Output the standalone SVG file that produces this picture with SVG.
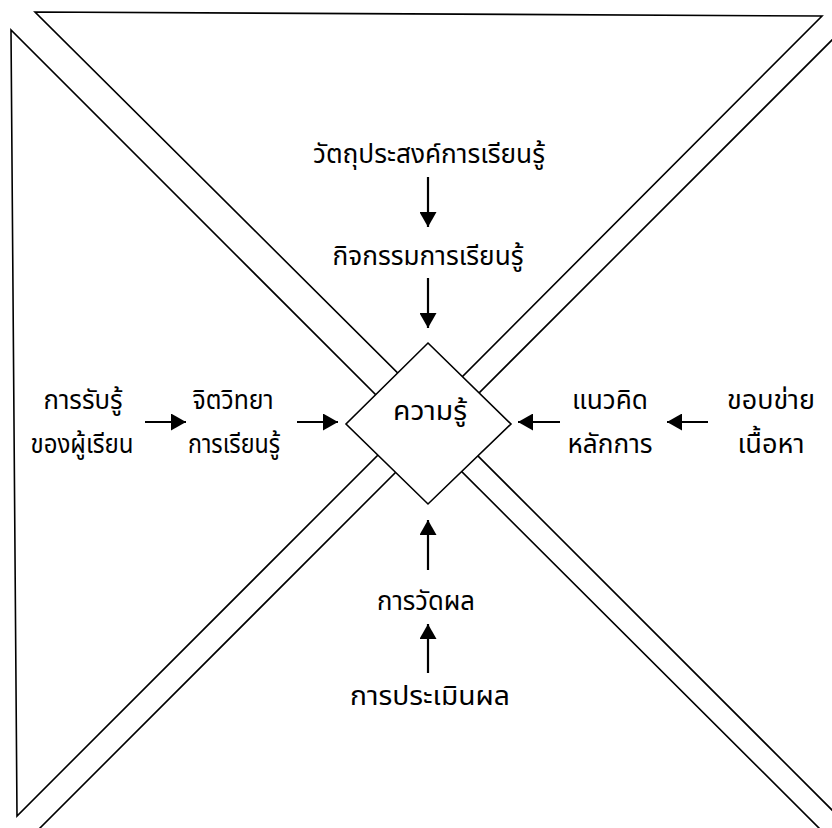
<svg xmlns="http://www.w3.org/2000/svg" width="832" height="828" viewBox="0 0 832 828">
<style>
.tri{fill:none;stroke:#000;stroke-width:1.6}
.dia{fill:#fff;stroke:#000;stroke-width:1.6}
.arr{stroke:#000;stroke-width:2.2;fill:none;marker-end:url(#ah)}
text{font-family:"Noto Sans Thai","Noto Sans","DejaVu Sans",sans-serif;font-size:27px;fill:#000;text-anchor:middle}
</style>
<defs>
<marker id="ah" markerUnits="userSpaceOnUse" markerWidth="16" markerHeight="17" refX="15" refY="8.5" orient="auto">
<path d="M0,0 L15,8.5 L0,17 Z" fill="#000"/>
</marker>
</defs>
<g id="triangles">
<polygon class="tri" points="35,12 822,16 432,407"/>
<polygon class="tri" points="11,30 17,816 407,426"/>
<polygon class="tri" points="447,425 872,0 872,850"/>
<polygon class="tri" points="429,439 18,850 841,850"/>
</g>
<g id="connectors">
<line class="arr" x1="428" y1="177" x2="428" y2="227"/>
<line class="arr" x1="428" y1="278" x2="428" y2="328"/>
<line class="arr" x1="145" y1="422" x2="186" y2="422"/>
<line class="arr" x1="297" y1="422" x2="338" y2="422"/>
<line class="arr" x1="560" y1="422" x2="518" y2="422"/>
<line class="arr" x1="708" y1="422" x2="667" y2="422"/>
<line class="arr" x1="428" y1="570" x2="428" y2="520"/>
<line class="arr" x1="428" y1="673" x2="428" y2="624"/>
</g>
<g id="n-knowledge">
<polygon class="dia" points="428,343 511,424 428,504 346,424"/>
<text x="430" y="420" textLength="74" lengthAdjust="spacingAndGlyphs">ความรู้</text>
</g>
<g id="n-objective"><text x="429" y="163" textLength="232" lengthAdjust="spacingAndGlyphs">วัตถุประสงค์การเรียนรู้</text></g>
<g id="n-activity"><text x="428" y="265" textLength="191" lengthAdjust="spacingAndGlyphs">กิจกรรมการเรียนรู้</text></g>
<g id="n-perception"><text x="83" y="409" textLength="79" lengthAdjust="spacingAndGlyphs">การรับรู้</text><text x="82" y="453" textLength="103" lengthAdjust="spacingAndGlyphs">ของผู้เรียน</text></g>
<g id="n-psychology"><text x="233" y="409" textLength="81" lengthAdjust="spacingAndGlyphs">จิตวิทยา</text><text x="234" y="453" textLength="92" lengthAdjust="spacingAndGlyphs">การเรียนรู้</text></g>
<g id="n-concept"><text x="610" y="409" textLength="76" lengthAdjust="spacingAndGlyphs">แนวคิด</text><text x="610" y="453" textLength="85" lengthAdjust="spacingAndGlyphs">หลักการ</text></g>
<g id="n-scope"><text x="771" y="409" textLength="88" lengthAdjust="spacingAndGlyphs">ขอบข่าย</text><text x="771" y="453" textLength="67" lengthAdjust="spacingAndGlyphs">เนื้อหา</text></g>
<g id="n-measure"><text x="426" y="610" textLength="98" lengthAdjust="spacingAndGlyphs">การวัดผล</text></g>
<g id="n-evaluate"><text x="430" y="705" textLength="160" lengthAdjust="spacingAndGlyphs">การประเมินผล</text></g>
</svg>
